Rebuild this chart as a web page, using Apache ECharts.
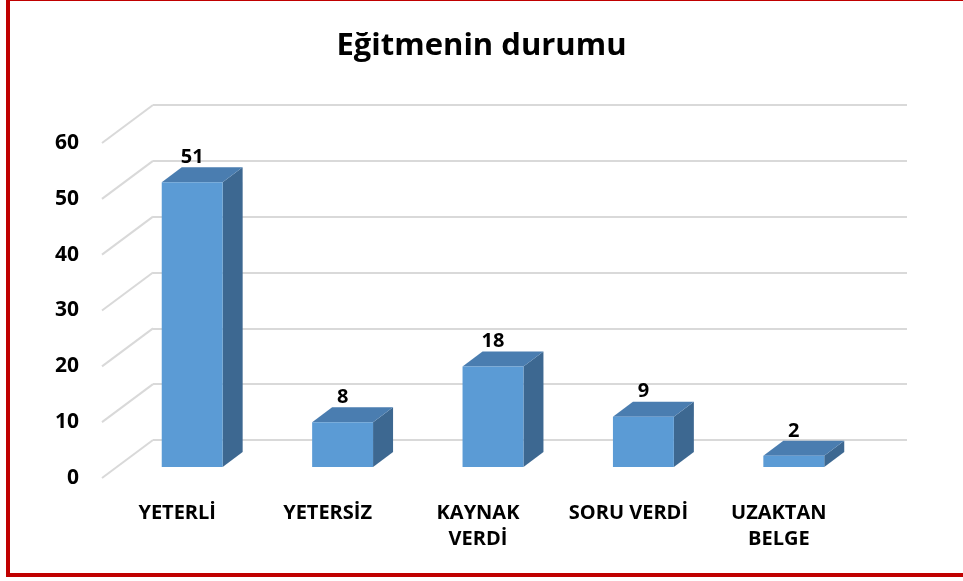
<!DOCTYPE html>
<html>
<head>
<meta charset="utf-8">
<title>Eğitmenin durumu</title>
<script src="https://cdn.jsdelivr.net/npm/echarts@6/dist/echarts.min.js"></script>
<style>
html, body { margin: 0; padding: 0; background: #fff; }
#chart { width: 963px; height: 581px; }
</style>
</head>
<body>
<div id="chart"></div>
<script>
// data
var categories = ['YETERLİ', 'YETERSİZ', 'KAYNAK\nVERDİ', 'SORU VERDİ', 'UZAKTAN\nBELGE'];
var values = [51, 8, 18, 9, 2];
var yTicks = [0, 10, 20, 30, 40, 50, 60];

// fake 3d: back wall sits behind the front plane, bars in between
var WALL_DX = 51, WALL_DY = -38;
var BAR_DX = 15, BAR_DY = -11;
var DEPTH_DX = 20, DEPTH_DY = -15;

var myChart = echarts.init(document.getElementById('chart'));

var option = {
  backgroundColor: '#fff',
  animation: false,
  title: {
    text: 'Eğitmenin durumu',
    left: 'center',
    top: 26,
    textStyle: { fontFamily: 'Open Sans', fontWeight: 'bold', fontSize: 31, color: '#000' }
  },
  graphic: [{
    type: 'rect',
    shape: { x: 8, y: -1, width: 980, height: 576 },
    style: { fill: 'none', stroke: '#c00000', lineWidth: 4 },
    z: 100
  }],
  grid: [
    // back wall
    { left: 102 + WALL_DX, top: 143 + WALL_DY, width: 754, height: 335, outerBoundsMode: 'none' },
    // front plane (labels + bars)
    { left: 102, top: 143, width: 752, height: 335, outerBoundsMode: 'none' }
  ],
  xAxis: [
    { gridIndex: 0, type: 'category', data: categories, show: false },
    {
      gridIndex: 1,
      type: 'category',
      data: categories,
      axisLine: { show: false },
      axisTick: { show: false },
      axisLabel: {
        margin: 22,
        interval: 0,
        fontFamily: 'Open Sans',
        fontWeight: 'bold',
        fontSize: 20,
        lineHeight: 26,
        color: '#000'
      }
    }
  ],
  yAxis: [
    {
      gridIndex: 0, type: 'value', min: 0, max: 60, interval: 10,
      axisLabel: { show: false },
      axisLine: { show: false },
      axisTick: { show: false },
      splitLine: { lineStyle: { color: '#d9d9d9', width: 2 } }
    },
    {
      gridIndex: 1, type: 'value', min: 0, max: 60, interval: 10,
      axisLine: { show: false },
      axisTick: { show: false },
      splitLine: { show: false },
      axisLabel: {
        margin: 23,
        fontFamily: 'Open Sans',
        fontWeight: 'bold',
        fontSize: 21,
        color: '#000'
      }
    }
  ],
  series: [
    {
      // side wall diagonals
      type: 'custom',
      xAxisIndex: 1,
      yAxisIndex: 1,
      silent: true,
      z: 1,
      data: yTicks.map(function (v) { return [0, v]; }),
      renderItem: function (params, api) {
        var p = api.coord([0, api.value(1)]);
        var half = api.size([1, 0])[0] / 2;
        var x = p[0] - half;
        return {
          type: 'line',
          shape: { x1: x, y1: p[1], x2: x + WALL_DX, y2: p[1] + WALL_DY },
          style: { stroke: '#d9d9d9', lineWidth: 2 }
        };
      }
    },
    {
      type: 'custom',
      xAxisIndex: 1,
      yAxisIndex: 1,
      z: 5,
      data: values.map(function (v, i) { return [i, v]; }),
      renderItem: function (params, api) {
        var top = api.coord([api.value(0), api.value(1)]);
        var base = api.coord([api.value(0), 0]);
        var w = api.size([1, 0])[0] * 0.405;
        var x0 = top[0] + BAR_DX - w / 2;
        var x1 = x0 + w;
        var yt = top[1] + BAR_DY;
        var yb = base[1] + BAR_DY;
        return {
          type: 'group',
          children: [
            {
              type: 'polygon',
              shape: { points: [[x1, yt], [x1 + DEPTH_DX, yt + DEPTH_DY], [x1 + DEPTH_DX, yb + DEPTH_DY], [x1, yb]] },
              style: { fill: '#3d6891' }
            },
            {
              type: 'polygon',
              shape: { points: [[x0, yt], [x1, yt], [x1 + DEPTH_DX, yt + DEPTH_DY], [x0 + DEPTH_DX, yt + DEPTH_DY]] },
              style: { fill: '#4a7db0' }
            },
            {
              type: 'rect',
              shape: { x: x0, y: yt, width: w, height: yb - yt },
              style: { fill: '#5b9bd5' }
            },
            {
              type: 'text',
              style: {
                text: String(api.value(1)),
                x: x0 + w / 2,
                y: yt + DEPTH_DY - 10,
                align: 'center',
                verticalAlign: 'middle',
                fontFamily: 'Open Sans',
                fontWeight: 'bold',
                fontSize: 20,
                fill: '#000'
              }
            }
          ]
        };
      }
    }
  ]
};

myChart.setOption(option);
</script>
</body>
</html>
